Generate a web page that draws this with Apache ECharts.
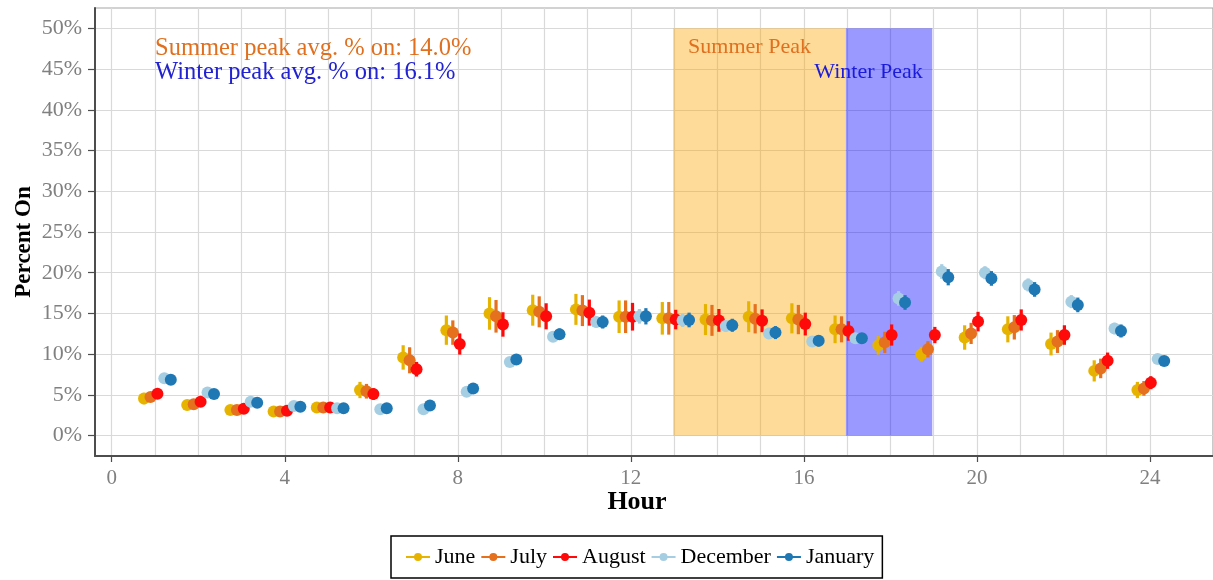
<!DOCTYPE html>
<html>
<head>
<meta charset="utf-8">
<script src="https://cdn.jsdelivr.net/npm/echarts@6/dist/echarts.min.js"></script>
<style>
html,body{margin:0;padding:0;background:#fff;}
#chart{width:1213px;height:580px;}
</style>
</head>
<body>
<div id="chart"></div>
<script>
// ---- data ----
const HOURS = [1,2,3,4,5,6,7,8,9,10,11,12,13,14,15,16,17,18,19,20,21,22,23,24];
const MONTHS = ['June','July','August','December','January'];

const JUNE     = [4.55,3.75,3.15,2.95,3.45,5.6,9.6,12.95,15.0,15.4,15.5,14.6,14.4,14.25,14.6,14.4,13.05,11.1,10.0,12.05,13.05,11.25,7.95,5.6];
const JULY     = [4.75,3.85,3.15,2.95,3.45,5.45,9.25,12.65,14.65,15.2,15.35,14.6,14.4,14.15,14.35,14.25,13.05,11.45,10.6,12.55,13.3,11.55,8.25,5.8];
const AUGUST   = [5.15,4.15,3.3,3.05,3.45,5.1,8.15,11.25,13.65,14.65,15.1,14.6,14.25,14.15,14.1,13.7,12.85,12.35,12.35,14.0,14.2,12.35,9.2,6.5];
const DECEMBER = [7.05,5.3,4.15,3.65,3.35,3.25,3.25,5.4,9.05,12.15,13.95,14.65,14.15,13.45,12.55,11.55,11.95,16.85,20.15,20.0,18.5,16.45,13.15,9.4];
const JANUARY  = [6.85,5.1,4.05,3.55,3.35,3.35,3.7,5.8,9.35,12.45,13.95,14.65,14.2,13.55,12.65,11.65,11.95,16.35,19.45,19.3,17.95,16.05,12.85,9.15];

// half-width of the error bars (percentage points)
const JUNE_ERR     = [0.7,0.6,0.6,0.6,0.6,1.0,1.5,1.8,2.0,1.9,1.9,2.0,2.0,1.9,1.9,1.85,1.7,1.15,0.9,1.5,1.6,1.4,1.3,1.0];
const JULY_ERR     = [0.6,0.6,0.5,0.5,0.6,0.9,1.6,1.5,2.0,1.9,1.9,2.0,2.0,1.9,1.8,1.8,1.6,1.3,1.0,1.3,1.5,1.4,1.2,0.9];
const AUGUST_ERR   = [0.5,0.5,0.5,0.5,0.5,0.7,0.9,1.3,1.5,1.6,1.6,1.7,1.2,1.4,1.4,1.4,1.2,1.3,1.0,1.2,1.3,1.2,1.0,0.8];
const DECEMBER_ERR = [0.4,0.4,0.3,0.3,0.3,0.3,0.3,0.4,0.5,0.6,0.7,0.9,0.8,0.7,0.7,0.6,0.6,0.9,0.9,0.8,0.8,0.8,0.7,0.5];
const JANUARY_ERR  = [0.4,0.4,0.3,0.3,0.3,0.3,0.3,0.4,0.6,0.7,0.8,1.0,0.9,0.8,0.8,0.7,0.6,0.9,1.0,0.9,0.9,0.9,0.8,0.6];

const SUMMER_PEAK = [13, 17];
const WINTER_PEAK = [17, 19];
const PEAK_TOP = 50;
const SUMMER_AVG = '14.0%';
const WINTER_AVG = '16.1%';
const Y_TICKS_MAX = 50;

// ---- styling ----
const COLORS = ['#E6B400', '#E5701E', '#FF0A0A', '#A6CEE3', '#1F78B4'];
const DODGE = [-0.25, -0.1, 0.06, 0.22, 0.37];
const SERIF = '"Liberation Serif", "Times New Roman", serif';
const GRID_COLOR = '#d9d9d9';
const AXIS_COLOR = '#4d4d4d';

const VALUES = [JUNE, JULY, AUGUST, DECEMBER, JANUARY];
const ERRS = [JUNE_ERR, JULY_ERR, AUGUST_ERR, DECEMBER_ERR, JANUARY_ERR];

const chart = echarts.init(document.getElementById('chart'), null, {renderer: 'canvas'});

const monthSeries = MONTHS.map((name, k) => {
  const color = COLORS[k];
  return {
    name: name,
    type: 'custom',
    xAxisIndex: 0,
    yAxisIndex: 0,
    z: 3,
    itemStyle: {color: color},
    encode: {x: 0, y: 1},
    data: HOURS.map((h, i) => [h + DODGE[k], VALUES[k][i], VALUES[k][i] - ERRS[k][i], VALUES[k][i] + ERRS[k][i]]),
    renderItem: function (params, api) {
      const x = api.value(0), y = api.value(1), lo = api.value(2), hi = api.value(3);
      const p = api.coord([x, y]);
      const pl = api.coord([x, lo]);
      const ph = api.coord([x, hi]);
      return {
        type: 'group',
        children: [
          {type: 'line', shape: {x1: p[0], y1: pl[1], x2: p[0], y2: ph[1]}, style: {stroke: color, lineWidth: 3.2}},
          {type: 'circle', shape: {cx: p[0], cy: p[1], r: 6}, style: {fill: color}}
        ]
      };
    }
  };
});

const peakSeries = {
  name: 'peaks',
  type: 'scatter',
  xAxisIndex: 0,
  yAxisIndex: 0,
  z: 1,
  data: [],
  silent: true,
  markArea: {
    silent: true,
    label: {show: false},
    data: [
      [{xAxis: SUMMER_PEAK[0], yAxis: 0, itemStyle: {color: 'rgba(255,165,0,0.4)'}}, {xAxis: SUMMER_PEAK[1], yAxis: PEAK_TOP}],
      [{xAxis: WINTER_PEAK[0], yAxis: 0, itemStyle: {color: 'rgba(0,0,255,0.4)'}}, {xAxis: WINTER_PEAK[1], yAxis: PEAK_TOP}]
    ]
  }
};

const option = {
  animation: false,
  backgroundColor: '#ffffff',
  textStyle: {fontFamily: SERIF},
  grid: [
    {left: 95, top: 8, width: 1120, height: 448, show: true, borderColor: '#a6a6a6', borderWidth: 1.2, backgroundColor: 'transparent'},
    {left: 95, top: 28.36, width: 1120, height: 407.27},
    {left: 111.7, top: 8, width: 1038.3, height: 448}
  ],
  xAxis: [
    {gridIndex: 0, type: 'value', min: -0.385, max: 25.5,
     axisLine: {show: true, onZero: false, lineStyle: {color: AXIS_COLOR, width: 2}},
     axisTick: {show: false}, axisLabel: {show: false}, splitLine: {show: false}},
    {gridIndex: 1, type: 'value', min: 0, max: 1, show: false},
    {gridIndex: 2, type: 'value', min: 0, max: 24, interval: 4,
     axisLine: {show: false, onZero: false},
     axisTick: {show: true, length: 6, lineStyle: {color: AXIS_COLOR, width: 1.2}},
     axisLabel: {show: true, margin: 12, fontSize: 21, color: '#808080', fontFamily: SERIF},
     splitLine: {show: true, lineStyle: {color: GRID_COLOR, width: 1.2}},
     minorTick: {show: false, splitNumber: 4},
     minorSplitLine: {show: true, lineStyle: {color: GRID_COLOR, width: 1.2}}}
  ],
  yAxis: [
    {gridIndex: 0, type: 'value', min: -2.5, max: 52.5,
     axisLine: {show: true, onZero: false, lineStyle: {color: AXIS_COLOR, width: 2}},
     axisTick: {show: false}, axisLabel: {show: false}, splitLine: {show: false}},
    {gridIndex: 1, type: 'value', min: 0, max: Y_TICKS_MAX, interval: 5,
     axisLine: {show: false, onZero: false},
     axisTick: {show: true, length: 7, lineStyle: {color: AXIS_COLOR, width: 1.2}},
     axisLabel: {show: true, margin: 13, fontSize: 22, color: '#808080', fontFamily: SERIF, formatter: '{value}%'},
     splitLine: {show: true, lineStyle: {color: GRID_COLOR, width: 1.2}}},
    {gridIndex: 2, type: 'value', min: 0, max: 1, show: false}
  ],
  legend: {
    data: MONTHS,
    left: 391,
    bottom: 2,
    orient: 'horizontal',
    icon: 'path://M0,3L9,3L9,5L0,5Z M8,4A4,4 0 1,1 16,4A4,4 0 1,1 8,4Z M15,3L24,3L24,5L15,5Z',
    itemWidth: 24,
    itemHeight: 8,
    itemGap: 6,
    padding: [10, 8, 10, 15],
    borderColor: '#000',
    borderWidth: 1.5,
    borderRadius: 0,
    textStyle: {fontFamily: SERIF, fontSize: 22, color: '#000', padding: [0, 0, 0, 0]}
  },
  graphic: [
    {type: 'text', z: 100, x: 155, y: 49, style: {text: 'Summer peak avg. % on: ' + SUMMER_AVG, fill: '#E0701F', font: '24.5px ' + SERIF, align: 'left', verticalAlign: 'middle'}},
    {type: 'text', z: 100, x: 155, y: 73, style: {text: 'Winter peak avg. % on: ' + WINTER_AVG, fill: '#2222D0', font: '24.5px ' + SERIF, align: 'left', verticalAlign: 'middle'}},
    {type: 'text', z: 100, x: 749.5, y: 47, style: {text: 'Summer Peak', fill: '#E0701F', font: '22px ' + SERIF, align: 'center', verticalAlign: 'middle'}},
    {type: 'text', z: 100, x: 868.5, y: 72, style: {text: 'Winter Peak', fill: '#1c1cd8', font: '22px ' + SERIF, align: 'center', verticalAlign: 'middle'}},
    {type: 'text', z: 100, x: 637, y: 502, style: {text: 'Hour', fill: '#000', font: 'bold 26px ' + SERIF, align: 'center', verticalAlign: 'middle'}},
    {type: 'text', z: 100, x: 24, y: 242, rotation: Math.PI / 2, style: {text: 'Percent On', fill: '#000', font: 'bold 23px ' + SERIF, align: 'center', verticalAlign: 'middle'}}
  ],
  series: [peakSeries].concat(monthSeries)
};

chart.setOption(option);
</script>
</body>
</html>
